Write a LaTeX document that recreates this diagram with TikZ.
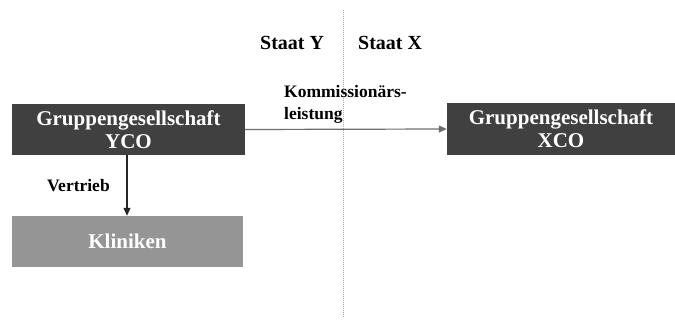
\documentclass[tikz,border=0pt]{standalone}
\usepackage{fontspec}
\setmainfont{Liberation Serif}
\usetikzlibrary{arrows.meta}
\definecolor{boxdark}{HTML}{404040}
\definecolor{boxlight}{HTML}{959595}
\definecolor{linegray}{HTML}{6E6E6E}
\begin{document}
\begin{tikzpicture}[x=1pt,y=-1pt,
  entity/.style={rectangle, draw=none, fill=boxdark, text=white,
    font=\bfseries\fontsize{21}{23}\selectfont, align=center, inner sep=0pt},
  lbl/.style={font=\bfseries\fontsize{17.5}{22}\selectfont, text=black, inner sep=0pt},
  staat/.style={font=\bfseries\fontsize{20}{22}\selectfont, text=black, inner sep=0pt}]
\useasboundingbox (0,0) rectangle (675,320);
% country border
\draw[gray!70, dashed, dash pattern=on 1pt off 1pt, line width=0.6pt] (343,10) -- (343,318);
\node[staat, anchor=west] (sy) at (260,43) {Staat Y};
\node[staat, anchor=west] (sx) at (358,43) {Staat X};
% entities
\node[entity, minimum width=233, minimum height=51] (yco) at (128.5,129.5) {Gruppengesellschaft\\YCO};
\node[entity, minimum width=228, minimum height=52] (xco) at (561,129) {Gruppengesellschaft\\XCO};
\node[entity, fill=boxlight, text=white, minimum width=231, minimum height=51] (kl) at (127.5,241.5) {Kliniken};
% flows
\draw[linegray, line width=1.2pt, -{Triangle[length=8pt,width=7pt]}] (yco.east) -- (xco.west);
\draw[black!85, line width=1.3pt, -{Triangle[length=8pt,width=7pt]}] (yco.south -| 127,0) -- (kl.north -| 127,0);
\node[lbl, anchor=west, align=left] (komm) at (284,104) {Kommissionärs-\\leistung};
\node[lbl, anchor=west] (vt) at (47,186) {Vertrieb};
\end{tikzpicture}
\end{document}
